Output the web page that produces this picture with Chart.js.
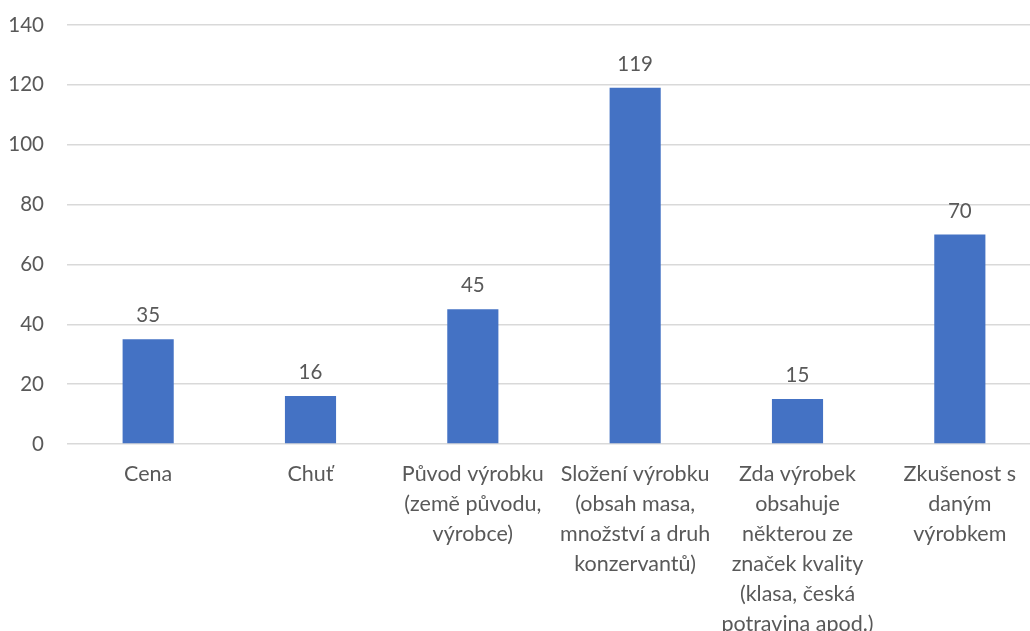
<!DOCTYPE html>
<html>
<head>
<meta charset="utf-8">
<script src="https://cdn.jsdelivr.net/npm/chart.js@4/dist/chart.umd.min.js"></script>
<style>
html,body{margin:0;padding:0;background:#fff;overflow:hidden;}
#wrap{width:1041px;height:631px;position:relative;}
</style>
</head>
<body>
<div id="wrap"><canvas id="c"></canvas></div>
<script>
const categories = [
  ["Cena"],
  ["Chuť"],
  ["Původ výrobku", "(země původu,", "výrobce)"],
  ["Složení výrobku", "(obsah masa,", "množství a druh", "konzervantů)"],
  ["Zda výrobek", "obsahuje", "některou ze", "značek kvality", "(klasa, česká", "potravina apod.)"],
  ["Zkušenost s", "daným", "výrobkem"]
];
const values = [35, 16, 45, 119, 15, 70];
const yMin = 0, yMax = 140, yStep = 20;

const TEXT = '#595959';
const FONT = 'Lato, "Open Sans", sans-serif';

const dataLabels = {
  id: 'dataLabels',
  afterDatasetsDraw(chart) {
    const ctx = chart.ctx;
    const meta = chart.getDatasetMeta(0);
    ctx.save();
    ctx.font = '20.5px ' + FONT;
    ctx.fillStyle = TEXT;
    ctx.textAlign = 'center';
    ctx.textBaseline = 'alphabetic';
    meta.data.forEach((bar, i) => {
      ctx.fillText(String(values[i]), bar.x, bar.y - 17);
    });
    ctx.restore();
  }
};

new Chart(document.getElementById('c'), {
  type: 'bar',
  data: {
    labels: categories,
    datasets: [{
      data: values,
      backgroundColor: '#4472C4',
      borderWidth: 0,
      barPercentage: 0.315,
      categoryPercentage: 1
    }]
  },
  options: {
    responsive: true,
    maintainAspectRatio: false,
    animation: false,
    devicePixelRatio: 1,
    layout: { padding: { top: 25, left: 0, right: 0, bottom: 0 } },
    plugins: { legend: { display: false }, tooltip: { enabled: false } },
    scales: {
      x: {
        grid: { display: false, drawTicks: false },
        border: { display: false },
        ticks: {
          color: TEXT,
          font: { family: FONT, size: 21.5, lineHeight: 1.4 },
          padding: 15,
          maxRotation: 0,
          minRotation: 0,
          autoSkip: false
        },
        afterFit(scale) { scale.height = 187; }
      },
      y: {
        min: yMin, max: yMax,
        grid: { color: '#d9d9d9', lineWidth: 1.5, drawTicks: false },
        border: { display: false },
        ticks: {
          stepSize: yStep,
          color: TEXT,
          font: { family: FONT, size: 20.5 },
          padding: 23
        },
        afterFit(scale) {
          scale.width = 67;
          scale.paddingTop = 0;
          scale.paddingBottom = 0;
        }
      }
    }
  },
  plugins: [dataLabels]
});
</script>
</body>
</html>
